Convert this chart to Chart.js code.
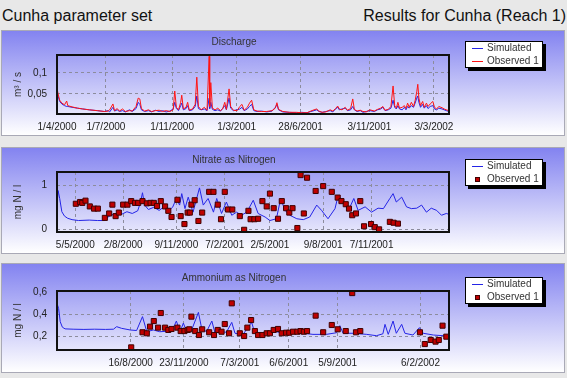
<!DOCTYPE html>
<html>
<head>
<meta charset="utf-8">
<script src="https://cdn.jsdelivr.net/npm/chart.js@4.4.1/dist/chart.umd.min.js"></script>
<style>
  body { margin: 0; width: 567px; height: 378px; background: #e8e8e8; position: relative; overflow: hidden;
         font-family: "Liberation Sans", Arial, sans-serif; }
  .cabecera { position: absolute; top: 7px; font-size: 16px; line-height: 18px; color: #111; white-space: nowrap; }
  .panel { position: absolute; left: 1px; width: 564px; box-sizing: border-box; border: 1px solid #a9a9b6;
           background: linear-gradient(#8383f0, #ffffff); }
  canvas { position: absolute; left: 1px; }
  .titulo { position: absolute; left: 0; width: 468px; text-align: center; font-size: 10px; line-height: 12px; color: #333; }
  .leyenda { position: absolute; left: 465px; width: 76px; height: 25px; background: #fff; border: 1px solid #000;
             box-shadow: 3px 3px 0 #000; }
  .fila { position: absolute; left: 0; height: 12px; line-height: 12px; font-size: 10px; color: #333;
          padding-left: 21px; white-space: nowrap; }
  .linea { position: absolute; left: 6px; top: 6px; width: 11px; height: 1px; }
  .cuadro { position: absolute; left: 9px; top: 4px; width: 3px; height: 3px; background: #c00000; border: 1px solid #400000; }
</style>
</head>
<body>
<div class="cabecera" style="left:2px">Cunha parameter set</div>
<div class="cabecera" style="right:1px">Results for Cunha (Reach 1)</div>

<div class="panel" style="top:30px;height:106px"></div>
<div class="panel" style="top:147px;height:107px"></div>
<div class="panel" style="top:263px;height:110px"></div>

<canvas id="grafico-caudal" width="564" height="106" style="top:30px"></canvas>
<canvas id="grafico-nitrato" width="564" height="107" style="top:147px"></canvas>
<canvas id="grafico-amonio" width="564" height="110" style="top:263px"></canvas>

<div class="titulo" style="top:36px">Discharge</div>
<div class="titulo" style="top:154px">Nitrate as Nitrogen</div>
<div class="titulo" style="top:272px">Ammonium as Nitrogen</div>

<div class="leyenda" style="top:41px">
  <div class="fila" style="top:0"><span class="linea" style="background:#2424e6"></span>Simulated</div>
  <div class="fila" style="top:13px"><span class="linea" style="background:#ff1414"></span>Observed 1</div>
</div>
<div class="leyenda" style="top:159px">
  <div class="fila" style="top:0"><span class="linea" style="background:#2424e6"></span>Simulated</div>
  <div class="fila" style="top:13px"><span class="cuadro"></span>Observed 1</div>
</div>
<div class="leyenda" style="top:277px">
  <div class="fila" style="top:0"><span class="linea" style="background:#2424e6"></span>Simulated</div>
  <div class="fila" style="top:13px"><span class="cuadro"></span>Observed 1</div>
</div>

<script>
// days counted from 1/4/2000
const diasCaudal = [0, 2, 5, 9, 14, 18, 20, 28, 38, 48, 60, 75, 88, 95, 98, 104, 107, 112, 116, 122,
  127, 135, 140, 147, 151, 154, 157, 163, 170, 176, 183, 190, 196, 203, 210, 216, 219, 222, 226, 230,
  232, 235, 240, 243, 246, 252, 257, 260, 263, 268, 274, 279, 283, 284, 286, 289, 294, 299, 304, 308,
  312, 315, 320, 323, 328, 335, 340, 344, 348, 354, 358, 362, 366, 372, 380, 390, 400, 406, 409, 412,
  420, 432, 445, 455, 465, 472, 478, 483, 487, 493, 500, 508, 513, 518, 522, 525, 530, 536, 540, 546,
  550, 553, 558, 564, 569, 575, 582, 590, 596, 602, 606, 610, 616, 621, 625, 628, 631, 634, 637, 642,
  646, 649, 652, 655, 659, 663, 666, 669, 671, 673, 676, 680, 683, 687, 690, 694, 699, 702, 706, 710,
  716, 720, 724, 729];
const caudalSimulado = [.060, .045, .032, .026, .022, .020, .020, .018, .016, .014, .012, .010, .008, .010, .007, .018, .009, .012, .008, .010,
  .007, .012, .008, .015, .030, .025, .012, .008, .010, .007, .011, .008, .010, .007, .009, .014, .030, .015, .010, .022,
  .028, .012, .015, .022, .010, .012, .020, .045, .015, .012, .014, .010, .040, .015, .030, .013, .010, .012, .009, .015,
  .022, .012, .040, .016, .010, .012, .014, .018, .010, .014, .020, .025, .010, .008, .009, .007, .009, .018, .025, .012,
  .007, .006, .005, .006, .005, .008, .010, .012, .008, .006, .008, .010, .007, .014, .018, .012, .014, .016, .010, .012,
  .020, .012, .008, .010, .006, .008, .010, .008, .012, .014, .018, .010, .012, .016, .035, .018, .014, .022, .014, .012,
  .018, .012, .020, .016, .022, .018, .028, .040, .045, .030, .018, .025, .016, .022, .015, .020, .022, .014, .012, .016,
  .014, .012, .010, .008];
const caudalObservado = [.065, .050, .035, .028, .024, .033, .022, .019, .016, .014, .012, .010, .008, .009, .012, .026, .010, .015, .009, .014,
  .008, .010, .009, .020, .040, .038, .015, .009, .012, .008, .010, .011, .008, .010, .008, .012, .057, .018, .012, .030,
  .047, .014, .018, .030, .011, .014, .025, .090, .020, .012, .018, .011, .140, .020, .077, .016, .012, .016, .010, .014,
  .030, .013, .062, .020, .011, .010, .020, .025, .011, .018, .028, .035, .012, .009, .008, .008, .010, .016, .029, .013,
  .008, .006, .006, .005, .005, .009, .012, .014, .009, .006, .007, .012, .009, .015, .021, .014, .012, .018, .011, .015,
  .038, .013, .009, .011, .008, .007, .012, .009, .013, .016, .020, .011, .013, .020, .069, .022, .016, .030, .016, .018,
  .022, .015, .028, .018, .030, .020, .034, .055, .073, .040, .022, .032, .018, .028, .020, .026, .032, .018, .014, .020,
  .017, .014, .012, .010];
const ticksCaudalDias = [0, 91, 214, 334, 453, 581, 701];
const ticksCaudalTexto = ['1/4/2000', '1/7/2000', '1/11/2000', '1/3/2001', '28/6/2001', '3/11/2001', '3/3/2002'];
const ticksCaudalY = [0.05, 0.1];
const ticksCaudalYTexto = ['0,05', '0,1'];

const diasNitratoSim = [0, 2, 5, 9, 14, 20, 28, 40, 60, 75, 89, 95, 100, 110, 120, 130, 140, 150, 155, 159,
  163, 170, 180, 190, 200, 210, 215, 222, 228, 232, 238, 244, 253, 265, 272, 281, 291, 297, 306, 315,
  325, 334, 343, 353, 365, 374, 387, 396, 408, 416, 424, 433, 446, 458, 470, 483, 492, 504, 517, 523,
  532, 542, 552, 560, 573, 585, 597, 607, 619, 625, 631, 641, 650, 659, 669, 678, 687, 696, 706, 715,
  724, 729];
const nitratoSimulado = [.50, .88, .70, .40, .30, .25, .22, .20, .21, .20, .20, .28, .32, .36, .34, .40, .36, .42, .60, .83,
  .55, .45, .50, .43, .52, .45, .50, .70, .55, .81, .47, .73, .39, .94, .55, .70, .39, .70, .36, .62,
  .32, .39, .32, .39, .66, .36, .28, .20, .24, .70, .43, .32, .24, .22, .28, .55, .43, .24, .47, .77,
  .62, .43, .70, .43, .51, .39, .48, .47, .70, .81, .62, .73, .51, .47, .48, .55, .39, .48, .43, .32,
  .36, .34];
const diasNitratoObs = [35, 43, 47, 53, 61, 69, 76, 89, 97, 103, 109, 115, 123, 131, 138, 145, 151, 159, 167, 174,
  180, 186, 193, 201, 207, 213, 224, 230, 237, 243, 247, 250, 256, 263, 270, 283, 291, 299, 305, 312,
  318, 326, 340, 348, 356, 360, 367, 374, 382, 390, 396, 403, 411, 418, 426, 432, 438, 447, 453, 459,
  465, 481, 495, 511, 522, 529, 537, 543, 549, 556, 564, 571, 584, 591, 599, 619, 626, 634];
const nitratoObservado = [.58, .62, .60, .65, .52, .47, .47, .26, .36, .56, .30, .38, .56, .56, .64, .60, .60, .64, .59, .60,
  .60, .53, .64, .52, .42, .28, .67, .30, .12, .38, .38, .56, .66, .19, .38, .85, .85, .56, .23, .85,
  .45, .45, .30, -.01, .42, .23, .23, .24, .64, .52, .81, .48, .24, .64, .48, .38, .48, .03, 1.23, .36,
  1.17, .87, .98, .85, .72, .64, .57, .47, .32, .36, .64, .07, .12, .05, .00, .17, .15, .13];
const ticksNitratoDias = [34, 123, 222, 312, 396, 495, 585];
const ticksNitratoTexto = ['5/5/2000', '2/8/2000', '9/11/2000', '7/2/2001', '2/5/2001', '9/8/2001', '7/11/2001'];
const ticksNitratoY = [0, 1];
const ticksNitratoYTexto = ['0', '1'];

const diasAmonioSim = [0, 1, 3, 6, 10, 15, 30, 50, 70, 90, 105, 111, 120, 136, 148, 159, 167, 179, 191, 210,
  215, 222, 229, 235, 241, 250, 263, 269, 278, 288, 294, 305, 315, 325, 331, 346, 362, 368, 390, 408,
  421, 439, 458, 476, 501, 520, 526, 532, 551, 576, 594, 606, 610, 616, 625, 631, 641, 647, 662, 674,
  681, 700, 718, 729];
const amonioSimulado = [.42, .48, .45, .33, .28, .265, .262, .26, .262, .26, .262, .285, .27, .255, .25, .376, .239, .255, .239, .245,
  .26, .336, .239, .318, .239, .25, .415, .27, .239, .336, .225, .24, .234, .324, .225, .215, .324, .225, .215, .239,
  .225, .225, .225, .215, .215, .23, .294, .225, .225, .215, .203, .22, .306, .215, .336, .225, .306, .225, .209, .276,
  .225, .209, .203, .194];
const diasAmonioObs = [138, 159, 167, 173, 180, 188, 193, 201, 207, 213, 224, 230, 237, 243, 246, 250, 257, 264, 270, 283,
  292, 299, 306, 312, 320, 325, 340, 348, 354, 361, 368, 374, 382, 390, 396, 403, 411, 418, 426, 432,
  439, 447, 453, 459, 465, 481, 495, 511, 522, 537, 549, 556, 564, 675, 684, 695, 704, 710, 717, 724];
const amonioObservado = [.097, .234, .225, .285, .336, .276, .409, .276, .255, .264, .276, .245, .245, .255, .261, .376, .245, .209, .261, .234,
  .209, .255, .239, .309, .225, .497, .225, .200, .276, .345, .245, .209, .209, .225, .225, .255, .264, .225, .230, .230,
  .239, .239, .245, .239, .245, .385, .234, .300, .261, .245, .590, .234, .245, .234, .127, .164, .149, .164, .294, .194];
const ticksAmonioDias = [137, 236, 340, 431, 522, 676];
const ticksAmonioTexto = ['16/8/2000', '23/11/2000', '7/3/2001', '6/6/2001', '5/9/2001', '6/2/2002'];
const ticksAmonioY = [0.2, 0.4, 0.6];
const ticksAmonioYTexto = ['0,2', '0,4', '0,6'];

const puntos = (dias, valores) => dias.map((d, i) => ({ x: d, y: valores[i] }));

/* black frame around the plot area */
const marcoGrafico = {
  id: 'marcoGrafico',
  afterDatasetsDraw(chart) {
    const { ctx, chartArea: a } = chart;
    ctx.save();
    ctx.strokeStyle = '#111';
    ctx.lineWidth = 2;
    ctx.strokeRect(a.left, a.top, a.right - a.left, a.bottom - a.top);
    ctx.restore();
  }
};

function construirPanel(idCanvas, series, opciones) {
  const contextoGrafico = document.getElementById(idCanvas).getContext('2d');
  return new Chart(contextoGrafico, {
    type: 'line',
    data: { datasets: series },
    plugins: [marcoGrafico],
    options: {
      responsive: false,
      animation: false,
      layout: { padding: { left: 0, right: 116, top: opciones.arriba, bottom: 0 } },
      plugins: { legend: { display: false }, tooltip: { enabled: false } },
      scales: {
        x: {
          type: 'linear', min: 0, max: 729,
          afterFit: s => { s.height = opciones.altoEjeX; },
          afterBuildTicks: s => { s.ticks = opciones.ticksX.map(v => ({ value: v })); },
          ticks: {
            autoSkip: false, maxRotation: 0, padding: 7, color: '#222',
            font: { family: 'Liberation Sans', size: 10 },
            callback: (v, i) => opciones.textosX[i]
          },
          grid: { color: '#8c8c9c', drawTicks: false },
          border: { display: false, dash: [3, 3] }
        },
        y: {
          min: opciones.minY, max: opciones.maxY,
          afterFit: s => { s.width = 56; },
          afterBuildTicks: s => { s.ticks = opciones.ticksY.map(v => ({ value: v })); },
          ticks: {
            padding: 10, color: '#222',
            font: { family: 'Liberation Sans', size: 10 },
            callback: (v, i) => opciones.textosY[i]
          },
          grid: { color: '#8c8c9c', drawTicks: false },
          border: { display: false, dash: [3, 3] },
          title: {
            display: true, text: opciones.tituloY, color: '#333',
            font: { family: 'Liberation Sans', size: 10 },
            padding: { top: 11, bottom: 0 }
          }
        }
      }
    }
  });
}

const lineaSimulada = (datos) => ({
  label: 'Simulated', data: datos, borderColor: '#2424e6', borderWidth: 1,
  pointRadius: 0, tension: 0, order: 1
});
const puntosObservados = (datos) => ({
  label: 'Observed 1', data: datos, showLine: false, pointStyle: 'rect', pointRadius: 3.6,
  pointBackgroundColor: '#c00000', pointBorderColor: '#400000', pointBorderWidth: 1, order: 0
});

construirPanel('grafico-caudal', [
  lineaSimulada(puntos(diasCaudal, caudalSimulado)),
  { label: 'Observed 1', data: puntos(diasCaudal, caudalObservado), borderColor: '#ff1414',
    borderWidth: 1, pointRadius: 0, tension: 0, order: 0 }
], {
  arriba: 25, altoEjeX: 22, minY: 0.002, maxY: 0.143,
  ticksX: ticksCaudalDias, textosX: ticksCaudalTexto,
  ticksY: ticksCaudalY, textosY: ticksCaudalYTexto, tituloY: 'm³ / s'
});

construirPanel('grafico-nitrato', [
  lineaSimulada(puntos(diasNitratoSim, nitratoSimulado)),
  puntosObservados(puntos(diasNitratoObs, nitratoObservado))
], {
  arriba: 25, altoEjeX: 22, minY: -0.06, maxY: 1.3,
  ticksX: ticksNitratoDias, textosX: ticksNitratoTexto,
  ticksY: ticksNitratoY, textosY: ticksNitratoYTexto, tituloY: 'mg N / l'
});

construirPanel('grafico-amonio', [
  lineaSimulada(puntos(diasAmonioSim, amonioSimulado)),
  puntosObservados(puntos(diasAmonioObs, amonioObservado))
], {
  arriba: 28, altoEjeX: 23, minY: 0.073, maxY: 0.609,
  ticksX: ticksAmonioDias, textosX: ticksAmonioTexto,
  ticksY: ticksAmonioY, textosY: ticksAmonioYTexto, tituloY: 'mg N / l'
});
</script>
</body>
</html>
